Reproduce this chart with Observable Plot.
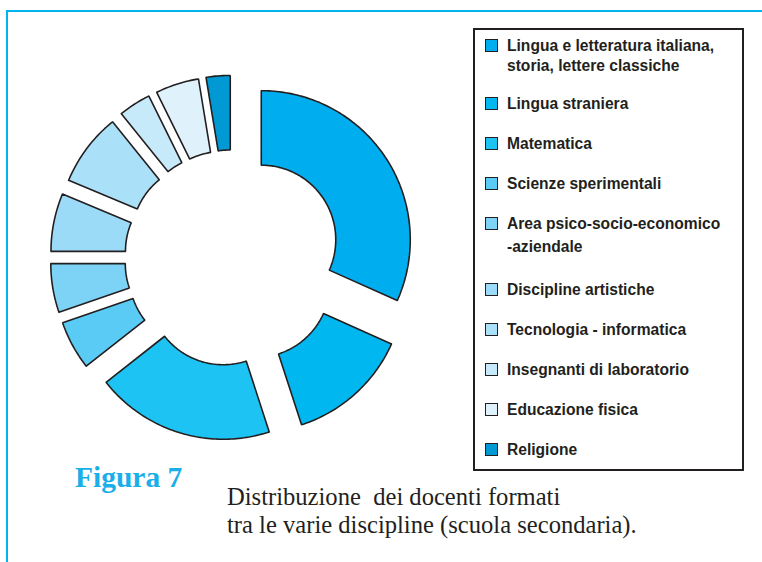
<!DOCTYPE html>
<html>
<head>
<meta charset="utf-8">
<script src="https://cdn.jsdelivr.net/npm/d3@7"></script>
<script src="https://cdn.jsdelivr.net/npm/@observablehq/plot@0.6"></script>
<style>
  html, body { margin: 0; padding: 0; background: #fff; }
  #page { position: relative; width: 762px; height: 562px; overflow: hidden; background: #fff; }
  #chart { position: absolute; left: 0; top: 0; }
  #frame { position: absolute; left: 6px; top: 10px; width: 800px; height: 600px;
           border-top: 2.5px solid #00B4EE; border-left: 2.5px solid #00B4EE; box-sizing: border-box; }
  #legend { position: absolute; left: 473px; top: 28px; width: 271px; height: 443px; box-sizing: border-box;
            border: 2.5px solid #231F20; padding: 6px 0 0 0; background: #fff;
            font-family: "Liberation Sans", Arial, sans-serif; font-weight: bold; font-size: 15.6px;
            line-height: 20px; color: #231F20; }
  .item { position: relative; padding-left: 32px; margin-bottom: 20px; }
  .item:nth-child(1) { margin-bottom: 18px; }
  .item:nth-child(5) { margin-bottom: 23.5px; }
  .item:nth-child(5) div:last-child { margin-top: 2.5px; }
  .sw { position: absolute; left: 9.5px; top: 2.5px; width: 13px; height: 13px; box-sizing: border-box;
        border: 1.5px solid #231F20; }
  #fig { position: absolute; left: 75px; top: 462.5px; font-family: "Liberation Serif", serif; font-weight: bold;
         font-size: 29.5px; line-height: 29px; color: #1AAFE8; white-space: pre; }
  #desc { position: absolute; left: 227px; top: 483px; font-family: "Liberation Serif", serif;
          font-size: 24.6px; line-height: 27.5px; color: #231F20; white-space: pre; }
</style>
</head>
<body>
<div id="page">
  <div id="chart"></div>
  <div id="frame"></div>
  <div id="legend"></div>
  <div id="fig"></div>
  <div id="desc"></div>
</div>
<script>
// ---- data ----
const categories = [
  "Lingua e letteratura italiana, storia, lettere classiche",
  "Lingua straniera",
  "Matematica",
  "Scienze sperimentali",
  "Area psico-socio-economico -aziendale",
  "Discipline artistiche",
  "Tecnologia - informatica",
  "Insegnanti di laboratorio",
  "Educazione fisica",
  "Religione"
];
const legendLines = [
  ["Lingua e letteratura italiana,", "storia, lettere classiche"],
  ["Lingua straniera"],
  ["Matematica"],
  ["Scienze sperimentali"],
  ["Area psico-socio-economico", "-aziendale"],
  ["Discipline artistiche"],
  ["Tecnologia - informatica"],
  ["Insegnanti di laboratorio"],
  ["Educazione fisica"],
  ["Religione"]
];
const values = [31.7, 13.3, 19.4, 5.3, 5.3, 6.3, 7.9, 3.5, 4.7, 2.6];
const colors = ["#00AEEF", "#00B8EF", "#1DC3F2", "#5ACBF4", "#7DD3F6", "#9BDBF8", "#ABE0F9", "#C7EAFB", "#DFF2FC", "#0099D4"];
const captionLabel = "Figura 7";
const captionText = "Distribuzione  dei docenti formati\ntra le varie discipline (scuola secondaria).";

// ---- geometry (derived from values) ----
const W = 470, H = 470;
const CX = 232.5, CY = 257.5, R = 149;   // pixel center & outer radius
const inner = 0.5, explode = 0.226;       // relative to outer radius
const total = d3.sum(values);
const pts = [];
let acc = 0;
values.forEach((v, i) => {
  const a0 = acc / total * 2 * Math.PI;
  acc += v;
  const a1 = acc / total * 2 * Math.PI;
  const am = (a0 + a1) / 2;
  const ex = Math.sin(am) * explode, ey = Math.cos(am) * explode;
  const n = Math.max(2, Math.ceil((a1 - a0) / (Math.PI / 180)));
  const ring = [];
  for (let k = 0; k <= n; k++) { const a = a0 + (a1 - a0) * k / n; ring.push([Math.sin(a) + ex, Math.cos(a) + ey]); }
  for (let k = n; k >= 0; k--) { const a = a0 + (a1 - a0) * k / n; ring.push([Math.sin(a) * inner + ex, Math.cos(a) * inner + ey]); }
  ring.push(ring[0]);
  ring.forEach(([x, y]) => pts.push({cat: categories[i], x, y}));
});

const plot = Plot.plot({
  width: W, height: H,
  marginTop: 0, marginRight: 0, marginBottom: 0, marginLeft: 0,
  style: {background: "transparent"},
  x: {domain: [-CX / R, (W - CX) / R], axis: null},
  y: {domain: [(CY - H) / R, CY / R], axis: null},
  color: {domain: categories, range: colors},
  marks: [
    Plot.line(pts, {x: "x", y: "y", z: "cat", fill: "cat", stroke: "#231F20", strokeWidth: 1.6,
                    strokeLinejoin: "miter", curve: "linear"})
  ]
});
document.getElementById("chart").appendChild(plot);

// ---- legend ----
const legend = document.getElementById("legend");
categories.forEach((c, i) => {
  const it = document.createElement("div");
  it.className = "item";
  const sw = document.createElement("div");
  sw.className = "sw";
  sw.style.background = colors[i];
  it.appendChild(sw);
  legendLines[i].forEach(t => { const l = document.createElement("div"); l.textContent = t; it.appendChild(l); });
  legend.appendChild(it);
});

document.getElementById("fig").textContent = captionLabel;
document.getElementById("desc").textContent = captionText;
</script>
</body>
</html>
